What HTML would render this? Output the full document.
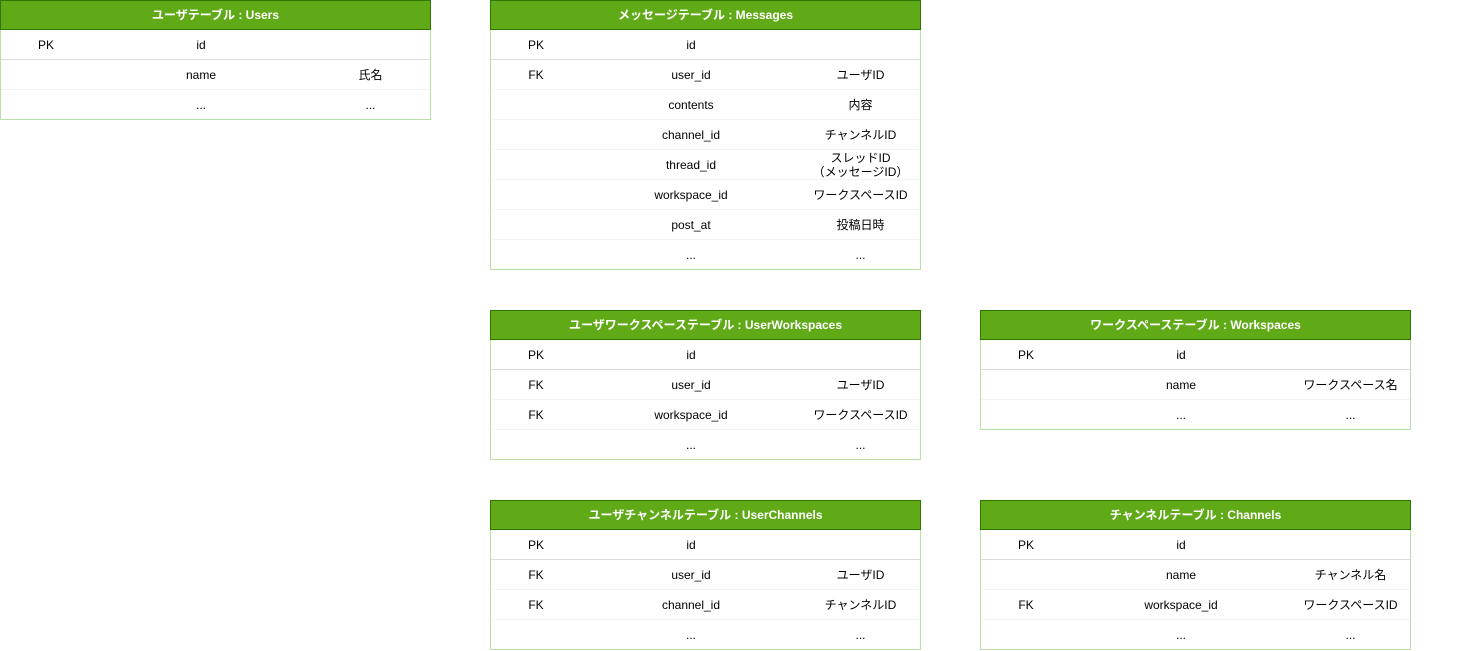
<!DOCTYPE html>
<html><head><meta charset="utf-8">
<style>
body{margin:0;width:1459px;height:651px;background:#fff;position:relative;overflow:hidden;font-family:"Liberation Sans","Noto Sans CJK JP",sans-serif;font-size:12px;color:#000}
.t{position:absolute;width:431px;box-sizing:border-box}
.h{height:30px;background:#60a917;border:1px solid #2d7600;box-sizing:border-box;color:#fff;font-weight:bold;text-align:center;line-height:28px;font-size:12px}
.b{border:1px solid #b9e0a5;border-top:none;box-sizing:border-box}
.r{display:flex;height:30px;align-items:center;text-align:center;border-bottom:1px solid #f2f2f2;box-sizing:border-box}
.r:last-child{border-bottom:none;height:29px}
.r.pk{border-bottom:1px solid #dcdcdc}
.r span:nth-child(1){width:90px;flex:none}
.r span:nth-child(2){width:220px;flex:none}
.r span:nth-child(3){width:119px;flex:none;line-height:14px}
</style></head><body>

<div class="t" style="left:0;top:0">
<div class="h">ユーザテーブル : Users</div>
<div class="b">
<div class="r pk"><span>PK</span><span>id</span><span></span></div>
<div class="r"><span></span><span>name</span><span>氏名</span></div>
<div class="r"><span></span><span>...</span><span>...</span></div>
</div></div>

<div class="t" style="left:490px;top:0">
<div class="h">メッセージテーブル : Messages</div>
<div class="b">
<div class="r pk"><span>PK</span><span>id</span><span></span></div>
<div class="r"><span>FK</span><span>user_id</span><span>ユーザID</span></div>
<div class="r"><span></span><span>contents</span><span>内容</span></div>
<div class="r"><span></span><span>channel_id</span><span>チャンネルID</span></div>
<div class="r"><span></span><span>thread_id</span><span>スレッドID<br>（メッセージID）</span></div>
<div class="r"><span></span><span>workspace_id</span><span>ワークスペースID</span></div>
<div class="r"><span></span><span>post_at</span><span>投稿日時</span></div>
<div class="r"><span></span><span>...</span><span>...</span></div>
</div></div>

<div class="t" style="left:490px;top:310px">
<div class="h">ユーザワークスペーステーブル : UserWorkspaces</div>
<div class="b">
<div class="r pk"><span>PK</span><span>id</span><span></span></div>
<div class="r"><span>FK</span><span>user_id</span><span>ユーザID</span></div>
<div class="r"><span>FK</span><span>workspace_id</span><span>ワークスペースID</span></div>
<div class="r"><span></span><span>...</span><span>...</span></div>
</div></div>

<div class="t" style="left:980px;top:310px">
<div class="h">ワークスペーステーブル : Workspaces</div>
<div class="b">
<div class="r pk"><span>PK</span><span>id</span><span></span></div>
<div class="r"><span></span><span>name</span><span>ワークスペース名</span></div>
<div class="r"><span></span><span>...</span><span>...</span></div>
</div></div>

<div class="t" style="left:490px;top:500px">
<div class="h">ユーザチャンネルテーブル : UserChannels</div>
<div class="b">
<div class="r pk"><span>PK</span><span>id</span><span></span></div>
<div class="r"><span>FK</span><span>user_id</span><span>ユーザID</span></div>
<div class="r"><span>FK</span><span>channel_id</span><span>チャンネルID</span></div>
<div class="r"><span></span><span>...</span><span>...</span></div>
</div></div>

<div class="t" style="left:980px;top:500px">
<div class="h">チャンネルテーブル : Channels</div>
<div class="b">
<div class="r pk"><span>PK</span><span>id</span><span></span></div>
<div class="r"><span></span><span>name</span><span>チャンネル名</span></div>
<div class="r"><span>FK</span><span>workspace_id</span><span>ワークスペースID</span></div>
<div class="r"><span></span><span>...</span><span>...</span></div>
</div></div>

</body></html>
